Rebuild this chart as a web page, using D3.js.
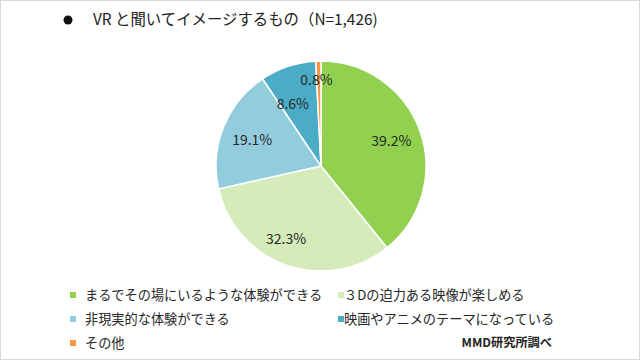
<!DOCTYPE html>
<html><head><meta charset="utf-8">
<script src="https://cdn.jsdelivr.net/npm/d3@7"></script>
<style>body{margin:0;background:#fff}svg{display:block}</style>
</head><body>
<svg id="c" width="640" height="360"></svg>
<script>
const categories = ["まるでその場にいるような体験ができる","３Dの迫力ある映像が楽しめる","非現実的な体験ができる","映画やアニメのテーマになっている","その他"];
const values = [39.2, 32.3, 19.1, 8.6, 0.8];
const colors = ["#92D050","#D5EBBA","#93CDDD","#4BACC6","#F79646"];
const title = "VR と聞いてイメージするもの（N=1,426)";
const source = "MMD研究所調べ";

const svg = d3.select("#c");
const font = "'Noto Sans CJK JP', 'Noto Sans', sans-serif";
svg.append("rect").attr("x",0.5).attr("y",0.5).attr("width",639).attr("height",359)
  .attr("fill","#fff").attr("stroke","#d9d9d9");

svg.append("circle").attr("cx",68).attr("cy",20).attr("r",4.5).attr("fill","#111");
svg.append("text").attr("x",93).attr("y",25).text(title)
  .attr("font-family",font).attr("font-size",15.4).attr("fill","#222");

const cx=321, cy=166, R=105;
const pie = d3.pie().sort(null).value(d=>d)(values);
const arc = d3.arc().innerRadius(0).outerRadius(R);
const g = svg.append("g").attr("transform",`translate(${cx},${cy})`);
g.selectAll("path").data(pie).join("path").attr("d",arc)
  .attr("fill",(d,i)=>colors[i]).attr("stroke","#fff").attr("stroke-width",1.5);

// label placement tweaks (fraction of radius, angle shift in degrees)
const labelR = [0.71,0.77,0.70,0.65,0.82];
const labelShift = [0,6.3,-1.2,-6,-1.6];
g.selectAll("text").data(pie).join("text")
  .attr("transform",(d,i)=>{
    const a=(d.startAngle+d.endAngle)/2 + labelShift[i]*Math.PI/180; const r=R*labelR[i];
    return `translate(${Math.sin(a)*r},${-Math.cos(a)*r})`;})
  .attr("text-anchor","middle").attr("dy","0.35em")
  .attr("font-family",font).attr("font-size",14).attr("fill","#262626")
  .text(d=>d.value.toFixed(1)+"%");

const legX=[70,338], legY=[295,319,343];
const lg = svg.append("g");
categories.forEach((c,i)=>{
  const x=legX[i%2], y=legY[Math.floor(i/2)];
  lg.append("rect").attr("x",x).attr("y",y-3).attr("width",6).attr("height",6).attr("fill",colors[i]);
  lg.append("text").attr("x",x+(i%2?6:15)).attr("y",y).attr("dy","0.35em")
    .attr("font-family",font).attr("font-size",13.2).attr("fill","#262626").text(c);
});
svg.append("text").attr("x",552).attr("y",343).attr("dy","0.35em").attr("text-anchor","end")
  .attr("font-family",font).attr("font-size",12.2).attr("font-weight","bold").attr("fill","#222").text(source);
</script>
</body></html>
